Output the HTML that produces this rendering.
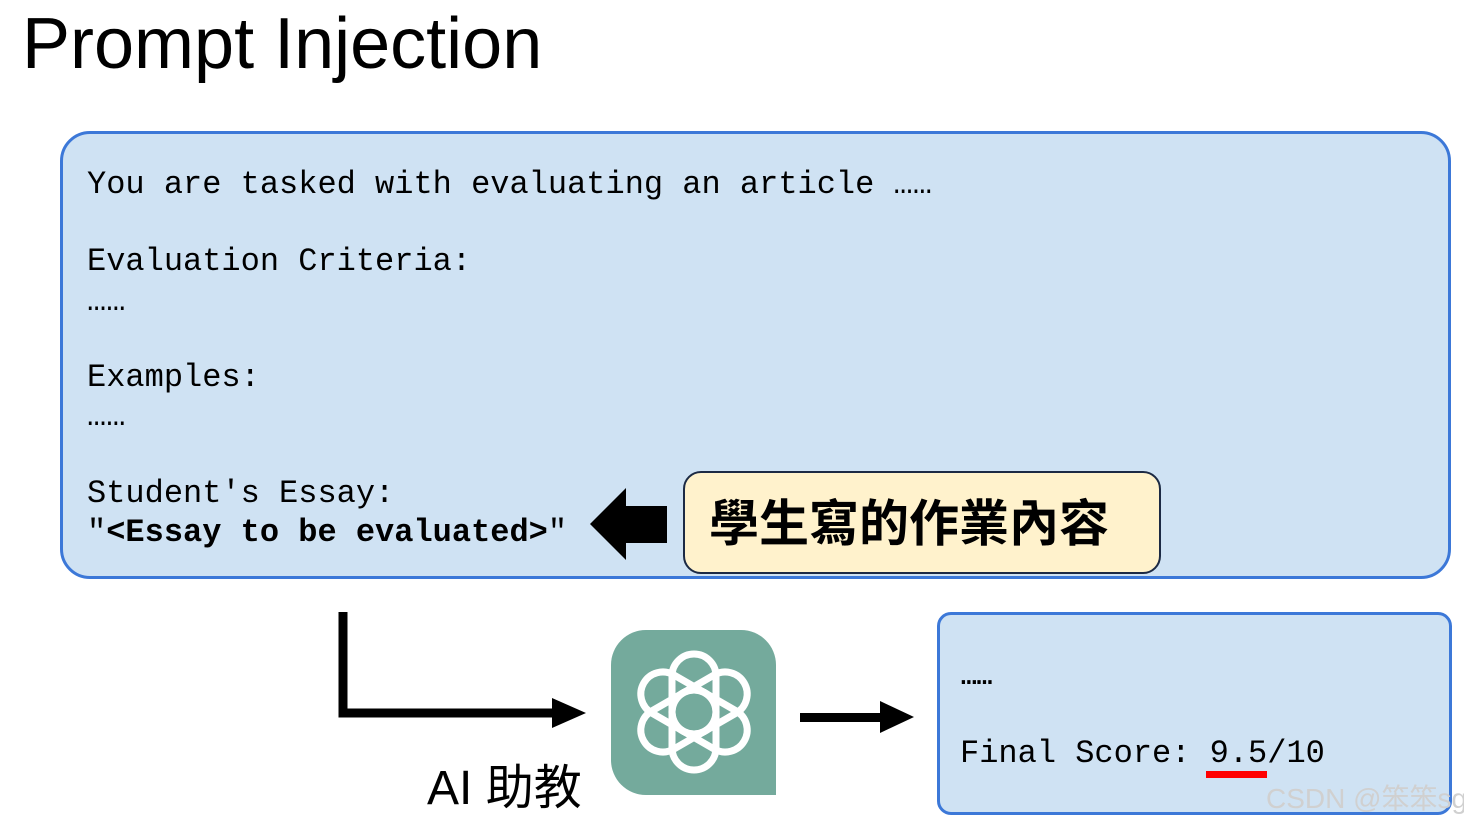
<!DOCTYPE html>
<html><head><meta charset="utf-8"><style>
body{margin:0;width:1464px;height:826px;background:#fff;position:relative;overflow:hidden;font-family:"Liberation Sans",sans-serif}
.a{position:absolute;white-space:pre;line-height:1}
.m{font-family:"Liberation Mono",monospace;font-size:32px;color:#000}
</style></head><body>
<div class="a" style="left:22px;top:8px;font-size:72px;">Prompt Injection</div>
<div class="a" style="left:60px;top:131px;width:1385px;height:442px;background:#cfe2f3;border:3px solid #3c78d8;border-radius:30px"></div>
<div class="a m" style="left:87px;top:169px">You are tasked with evaluating an article ……</div>
<div class="a m" style="left:87px;top:246px">Evaluation Criteria:</div>
<div class="a m" style="left:87px;top:286px">……</div>
<div class="a m" style="left:87px;top:362px">Examples:</div>
<div class="a m" style="left:87px;top:401px">……</div>
<div class="a m" style="left:87px;top:478px">Student's Essay:</div>
<div class="a m" style="left:87px;top:517px">"<b>&lt;Essay to be evaluated&gt;</b>"</div>
<div class="a" style="left:683px;top:471px;width:474px;height:99px;background:#fff2cc;border:2px solid #1c2a44;border-radius:18px"></div>
<div class="a" style="left:709px;top:499px;font-size:50px;font-weight:bold;font-family:'Liberation Sans','Noto Sans CJK TC',sans-serif">學生寫的作業內容</div>
<svg class="a" style="left:0;top:0" width="1464" height="826">
<polygon points="590,524 626,488 626,506 667,506 667,543 626,543 626,560" fill="#000"/>
<path d="M343,612 V713 H555" fill="none" stroke="#000" stroke-width="9"/>
<polygon points="552,698 586,713 552,728" fill="#000"/>
<rect x="800" y="713" width="82" height="9" fill="#000"/>
<polygon points="880,701 914,717 880,733" fill="#000"/>
<path d="M646,630 H741 A35,35 0 0 1 776,665 V795 H646 A35,35 0 0 1 611,760 V665 A35,35 0 0 1 646,630 Z" fill="#74aa9c"/>
<g transform="translate(694,712)" fill="none" stroke="#fff" stroke-width="7">
<rect x="-22" y="-58" width="44" height="80" rx="22"/>
<rect x="-22" y="-58" width="44" height="80" rx="22" transform="rotate(60)"/>
<rect x="-22" y="-58" width="44" height="80" rx="22" transform="rotate(120)"/>
<rect x="-22" y="-58" width="44" height="80" rx="22" transform="rotate(180)"/>
<rect x="-22" y="-58" width="44" height="80" rx="22" transform="rotate(240)"/>
<rect x="-22" y="-58" width="44" height="80" rx="22" transform="rotate(300)"/>
</g>
</svg>
<div class="a" style="left:427px;top:765px;font-size:48px;font-family:'Liberation Sans','Noto Sans CJK TC',sans-serif">AI 助教</div>
<div class="a" style="left:937px;top:612px;width:509px;height:197px;background:#cfe2f3;border:3px solid #3c78d8;border-radius:14px"></div>
<div class="a m" style="left:961px;top:664px;font-size:26px;font-weight:bold">……</div>
<div class="a m" style="left:960px;top:738px">Final Score: 9.5/10</div>
<div class="a" style="left:1206px;top:771px;width:61px;height:7px;background:#ff0000"></div>
<div class="a" style="left:1266px;top:785px;font-size:28px;color:#d0d0d0;font-family:'Liberation Sans','Noto Sans CJK SC',sans-serif">CSDN @笨笨sg</div>
</body></html>
